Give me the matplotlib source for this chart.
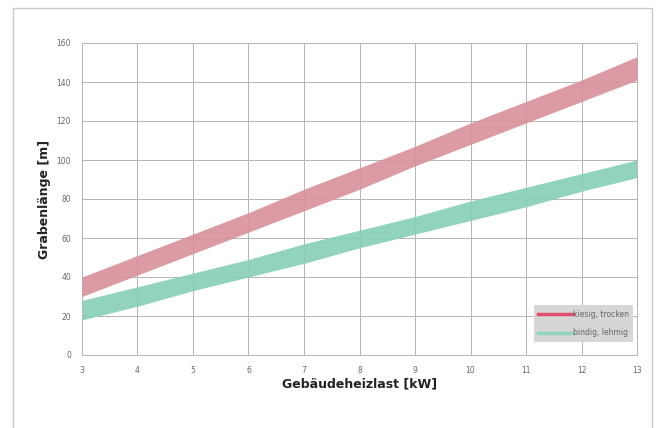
import matplotlib
matplotlib.use('Agg')
from matplotlib import pyplot as plt
from matplotlib.patches import Rectangle

leistung = [3, 4, 5, 6, 7, 8, 9, 10, 11, 12, 13]

kiesig_oben = [40, 51, 62, 73, 85, 96, 107, 119, 130, 141, 153]
kiesig_unten = [30, 41, 52, 63, 74, 85, 97, 108, 119, 130, 141]

bindig_oben = [28, 35, 42, 49, 57, 64, 71, 79, 86, 93, 100]
bindig_unten = [18, 25, 33, 40, 47, 55, 62, 69, 76, 84, 91]

rot = '#d9909a'
gruen = '#86cfb6'

fig = plt.figure(figsize=(6.6, 4.28), dpi=100)
fig.patches.append(Rectangle((13 / 660, -0.1), 639 / 660, 420 / 428 + 0.1,
                             transform=fig.transFigure, fill=False,
                             edgecolor='#c8c8c8', linewidth=1.0))
ax = fig.add_axes([82 / 660, 73 / 428, 555 / 660, 312 / 428])

ax.fill_between(leistung, kiesig_unten, kiesig_oben, color=rot, alpha=0.9,
                linewidth=0, zorder=3)
ax.fill_between(leistung, bindig_unten, bindig_oben, color=gruen, alpha=0.9,
                linewidth=0, zorder=3)

# Legenden-Einträge
ax.plot([], [], color='#e0506e', linewidth=2.5, label='kiesig, trocken')
ax.plot([], [], color='#8fd5bd', linewidth=2.5, label='bindig, lehmig')

ax.set_xlim(3, 13)
ax.set_ylim(0, 160)
ax.set_xticks(leistung)
ax.set_yticks(range(0, 161, 20))
ax.grid(True, color='#b4b4b4', linewidth=0.7, zorder=1)
ax.set_axisbelow(True)
for s in ax.spines.values():
    s.set_color('#b4b4b4')
    s.set_linewidth(0.7)
ax.tick_params(length=0, labelsize=5.5, labelcolor='#666666', pad=8)

ax.set_xlabel('Gebäudeheizlast [kW]', fontsize=9, fontweight='bold', color='#222222', labelpad=2)
ax.set_ylabel('Grabenlänge [m]', fontsize=9, fontweight='bold', color='#222222', labelpad=4)

leg = ax.legend(loc='lower right', fontsize=5.5, frameon=True, fancybox=False,
                handlelength=4.5, handletextpad=0.0, borderpad=0.6,
                labelspacing=1.2, bbox_to_anchor=(1.0, 0.03))
leg.get_frame().set_facecolor('#d6d6d6')
leg.get_frame().set_edgecolor('none')
leg.get_frame().set_alpha(1)
for t in leg.get_texts():
    t.set_color('#666666')

fig.savefig('out.png', dpi=100)
